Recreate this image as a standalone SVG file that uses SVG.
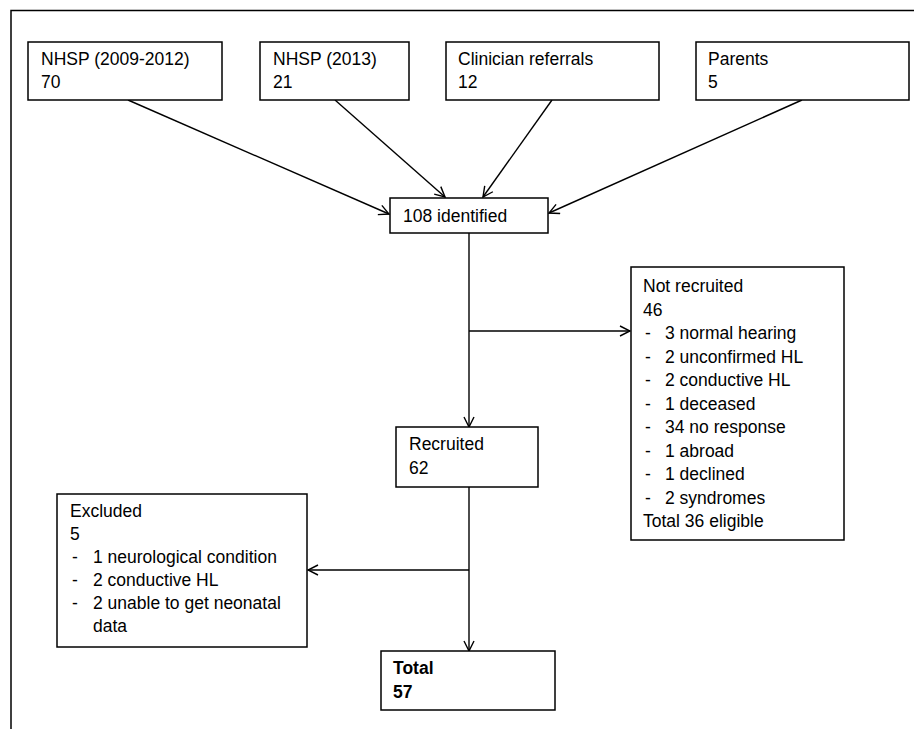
<svg xmlns="http://www.w3.org/2000/svg" width="914" height="729" viewBox="0 0 914 729">
<style>
.box{fill:#fff;stroke:#000;stroke-width:1.5}
.t{font-family:"Liberation Sans",Arial,sans-serif;font-size:17.5px;fill:#000}
.b{font-weight:bold}
.c{stroke:#000;stroke-width:1.4;fill:none}
</style>
<defs>
<marker id="ar" viewBox="0 0 12 12" refX="11" refY="6" markerWidth="12" markerHeight="12" markerUnits="userSpaceOnUse" orient="auto">
<path d="M1,1 L11,6 L1,11" fill="none" stroke="#000" stroke-width="1.4"/>
</marker>
</defs>
<rect width="914" height="729" fill="#fff"/>
<path d="M11,729 V10.5 H914" fill="none" stroke="#000" stroke-width="1.5"/>
<g id="connectors">
<line class="c" x1="128" y1="100" x2="389" y2="214" marker-end="url(#ar)"/>
<line class="c" x1="335" y1="100" x2="445" y2="197" marker-end="url(#ar)"/>
<line class="c" x1="552" y1="100" x2="483" y2="197" marker-end="url(#ar)"/>
<line class="c" x1="802" y1="100" x2="549" y2="213" marker-end="url(#ar)"/>
<line class="c" x1="469" y1="233" x2="469" y2="427" marker-end="url(#ar)"/>
<line class="c" x1="469" y1="331" x2="630" y2="331" marker-end="url(#ar)"/>
<line class="c" x1="469" y1="487" x2="469" y2="651" marker-end="url(#ar)"/>
<line class="c" x1="469" y1="570" x2="308" y2="570" marker-end="url(#ar)"/>
</g>
<g id="nhsp0912">
<rect class="box" x="28" y="42" width="194" height="58"/>
<text class="t" x="41" y="65">NHSP (2009-2012)</text>
<text class="t" x="41" y="88">70</text>
</g>
<g id="nhsp2013">
<rect class="box" x="260" y="42" width="149" height="58"/>
<text class="t" x="273" y="65">NHSP (2013)</text>
<text class="t" x="273" y="88">21</text>
</g>
<g id="clinician">
<rect class="box" x="446" y="42" width="213" height="58"/>
<text class="t" x="458" y="65">Clinician referrals</text>
<text class="t" x="458" y="88">12</text>
</g>
<g id="parents">
<rect class="box" x="696" y="42" width="213" height="58"/>
<text class="t" x="708" y="65">Parents</text>
<text class="t" x="708" y="88">5</text>
</g>
<g id="identified">
<rect class="box" x="390" y="198" width="158" height="35"/>
<text class="t" x="403" y="222">108 identified</text>
</g>
<g id="notrecruited">
<rect class="box" x="631" y="267" width="213" height="273"/>
<text class="t" x="643" y="292">Not recruited</text>
<text class="t" x="643" y="315.5">46</text>
<text class="t" x="645" y="339">-</text><text class="t" x="665" y="339">3 normal hearing</text>
<text class="t" x="645" y="362.5">-</text><text class="t" x="665" y="362.5">2 unconfirmed HL</text>
<text class="t" x="645" y="386">-</text><text class="t" x="665" y="386">2 conductive HL</text>
<text class="t" x="645" y="409.5">-</text><text class="t" x="665" y="409.5">1 deceased</text>
<text class="t" x="645" y="433">-</text><text class="t" x="665" y="433">34 no response</text>
<text class="t" x="645" y="456.5">-</text><text class="t" x="665" y="456.5">1 abroad</text>
<text class="t" x="645" y="480">-</text><text class="t" x="665" y="480">1 declined</text>
<text class="t" x="645" y="503.5">-</text><text class="t" x="665" y="503.5">2 syndromes</text>
<text class="t" x="643" y="527">Total 36 eligible</text>
</g>
<g id="recruited">
<rect class="box" x="396" y="427" width="142" height="60"/>
<text class="t" x="409" y="450">Recruited</text>
<text class="t" x="409" y="474">62</text>
</g>
<g id="excluded">
<rect class="box" x="57" y="494" width="250" height="153"/>
<text class="t" x="70" y="517">Excluded</text>
<text class="t" x="70" y="540">5</text>
<text class="t" x="72" y="563">-</text><text class="t" x="93" y="563">1 neurological condition</text>
<text class="t" x="72" y="586">-</text><text class="t" x="93" y="586">2 conductive HL</text>
<text class="t" x="72" y="609">-</text><text class="t" x="93" y="609">2 unable to get neonatal</text>
<text class="t" x="93" y="632">data</text>
</g>
<g id="total">
<rect class="box" x="381" y="651" width="174" height="59"/>
<text class="t b" x="393" y="674">Total</text>
<text class="t b" x="393" y="698">57</text>
</g>
</svg>
